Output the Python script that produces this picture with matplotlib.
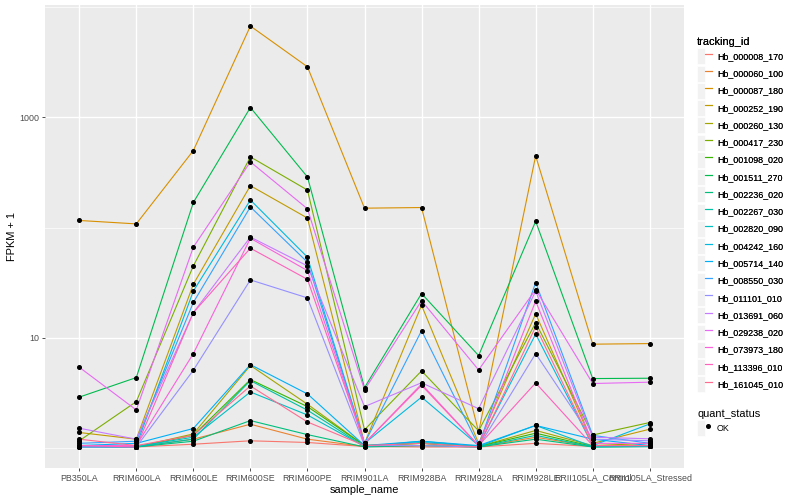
"""FPKM profiles per sample, ggplot-like styling."""

import matplotlib
matplotlib.use("Agg")
import matplotlib.pyplot as plt
import numpy as np
from matplotlib.legend_handler import HandlerTuple
from matplotlib.lines import Line2D
from matplotlib.patches import Patch

plt.rcParams["font.family"] = ["Liberation Sans", "DejaVu Sans"]

samples = [
    "PB350LA", "RRIM600LA", "RRIM600LE", "RRIM600SE", "RRIM600PE",
    "RRIM901LA", "RRIM928BA", "RRIM928LA", "RRIM928LE",
    "RRII105LA_Control", "RRII105LA_Stressed",
]

tracking_ids = [
    "Hb_000008_170", "Hb_000060_100", "Hb_000087_180", "Hb_000252_190",
    "Hb_000260_130", "Hb_000417_230", "Hb_001098_020", "Hb_001511_270",
    "Hb_002236_020", "Hb_002267_030", "Hb_002820_090", "Hb_004242_160",
    "Hb_005714_140", "Hb_008550_030", "Hb_011101_010", "Hb_013691_060",
    "Hb_029238_020", "Hb_073973_180", "Hb_113396_010", "Hb_161045_010",
]

colors = [
    "#F8766D", "#EA8331", "#D89000", "#C09B00", "#A3A500", "#7CAE00",
    "#39B600", "#00BB4E", "#00BF7D", "#00C1A3", "#00BFC4", "#00BAE0",
    "#00B0F6", "#35A2FF", "#9590FF", "#C77CFF", "#E76BF3", "#FA62DB",
    "#FF62BC", "#FF6C91",
]

# FPKM + 1, one row per tracking_id, one column per sample
fpkm1 = [
    [1.05, 1.02, 1.08, 1.16, 1.12, 1.03, 1.02, 1.02, 1.10, 1.03, 1.03],
    [1.03, 1.02, 1.20, 1.64, 1.20, 1.03, 1.05, 1.02, 1.25, 1.03, 1.05],
    [116, 108, 500, 6750, 2880, 150, 152, 1.40, 448, 8.74, 8.85],
    [1.38, 1.20, 30.6, 240, 122, 1.10, 19.7, 1.10, 16.5, 1.10, 1.48],
    [1.05, 1.02, 1.34, 5.60, 2.49, 1.05, 1.10, 1.03, 1.44, 1.05, 1.10],
    [1.16, 2.63, 44.9, 438, 219, 1.46, 5.00, 1.43, 13.7, 1.31, 1.70],
    [1.03, 1.02, 1.30, 4.17, 2.37, 1.05, 1.10, 1.03, 1.36, 1.03, 1.05],
    [2.89, 4.35, 169, 1230, 288, 3.52, 25.2, 6.89, 114, 4.26, 4.29],
    [1.03, 1.02, 1.15, 1.77, 1.32, 1.02, 1.05, 1.02, 1.20, 1.02, 1.03],
    [1.02, 1.02, 1.20, 4.08, 2.20, 1.03, 1.12, 1.02, 1.30, 1.02, 1.03],
    [1.02, 1.03, 1.25, 3.22, 1.99, 1.03, 1.15, 1.03, 1.60, 1.03, 1.03],
    [1.05, 1.05, 26.5, 178, 53.9, 1.10, 2.89, 1.05, 10.8, 1.05, 1.65],
    [1.05, 1.10, 1.50, 5.70, 3.09, 1.05, 1.15, 1.05, 1.60, 1.20, 1.05],
    [1.10, 1.15, 20.9, 154, 48.5, 1.10, 11.6, 1.05, 31.7, 1.30, 1.10],
    [1.02, 1.02, 5.07, 33.5, 23.0, 1.05, 1.05, 1.02, 7.18, 1.20, 1.16],
    [1.51, 1.20, 16.9, 82.0, 44.9, 2.37, 3.90, 2.27, 26.5, 1.25, 1.21],
    [5.40, 2.21, 66.4, 395, 148, 3.36, 21.7, 5.10, 27.4, 3.84, 3.95],
    [1.05, 1.05, 7.18, 80.0, 40.7, 1.10, 3.80, 1.05, 21.5, 1.10, 1.10],
    [1.05, 1.02, 16.9, 65.0, 33.9, 1.10, 3.70, 1.05, 3.89, 1.05, 1.05],
    [1.20, 1.05, 1.30, 3.65, 1.72, 1.05, 1.10, 1.02, 12.6, 1.05, 1.05],
]

quant_levels = ["OK"]

W, H = 800, 500
fig = plt.figure(figsize=(W / 100, H / 100), dpi=100)
left, right, top, bottom = 45, 684, 5, 468
ax = fig.add_axes([left / W, 1 - bottom / H, (right - left) / W, (bottom - top) / H])
ax.set_facecolor("#EBEBEB")

x = np.arange(len(samples))
for vals, col in zip(fpkm1, colors):
    ax.plot(x, vals, color=col, lw=0.8, zorder=3)
for vals in fpkm1:
    ax.plot(x, vals, ls="none", marker="o", ms=2.6, mec="black", mfc="black", zorder=4)

ax.set_yscale("log")
allv = np.log10(np.array(fpkm1, dtype=float))
lo, hi = allv.min(), allv.max()
pad = 0.05 * (hi - lo)
ax.set_ylim(10 ** (lo - pad), 10 ** (hi + pad))
ax.set_xlim(-0.6, len(samples) - 0.4)

ax.set_yticks([10, 1000])
ax.set_yticklabels(["10", "1000"])
ax.set_yticks([1, 100, 10000], minor=True)
ax.yaxis.set_minor_formatter(plt.NullFormatter())
ax.set_xticks(x)
ax.set_xticklabels(samples)

ax.grid(True, which="major", color="white", lw=1.0, zorder=1)
ax.grid(True, which="minor", axis="y", color="white", lw=0.5, zorder=1)
ax.set_axisbelow(True)
for s in ax.spines.values():
    s.set_visible(False)
ax.tick_params(axis="both", which="major", length=2.0, width=0.6, color="#333333",
               labelsize=6.4, labelcolor="#4D4D4D", pad=2)
ax.tick_params(axis="y", which="minor", length=0)

ax.set_xlabel("sample_name", fontsize=7.9, labelpad=2)
ax.set_ylabel("FPKM + 1", fontsize=7.9, labelpad=1.5)

legend_kw = dict(
    loc="upper left", frameon=False, fontsize=6.4, title_fontsize=7.9,
    alignment="left", handlelength=1.7, handleheight=2.38, labelspacing=0.15,
    handletextpad=0.55, borderpad=0, borderaxespad=0,
    handler_map={tuple: HandlerTuple(ndivide=None, pad=0)},
)

handles = [
    (Patch(facecolor="#F2F2F2", edgecolor="white", lw=0.5), Line2D([], [], color=c, lw=0.8))
    for c in colors
]
leg1 = fig.legend(handles, tracking_ids, title="tracking_id",
                  bbox_to_anchor=(697 / W, 1 - 37 / H), **legend_kw)
fig.add_artist(leg1)

ok_handles = [
    (Patch(facecolor="#F2F2F2", edgecolor="white", lw=0.5),
     Line2D([], [], ls="none", marker="o", ms=2.6, color="black"))
    for _ in quant_levels
]
fig.legend(ok_handles, quant_levels, title="quant_status",
           bbox_to_anchor=(697 / W, 1 - 409 / H), **legend_kw)

fig.savefig("out.png", dpi=100)
plt.close(fig)
